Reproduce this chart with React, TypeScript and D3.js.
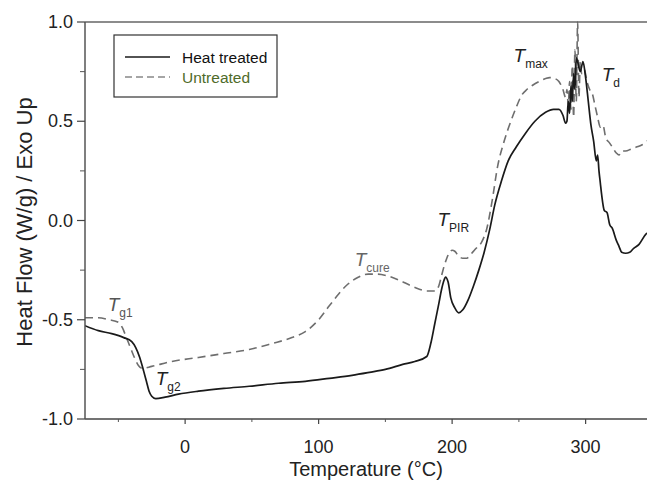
import * as d3 from "d3";

type Pt = { t: number; v: number };

// DSC curves (temperature in °C, heat flow in W/g)
const heatTreatedT = [
  -75, -65, -55, -46, -40, -37, -34, -31, -29, -27, -25, -22, -15, -5, 10, 29, 48, 70, 90, 108, 125, 138, 150, 163, 172, 181,
  184, 187, 190, 192, 194, 195, 197, 199, 202, 205, 208, 212, 216, 220, 224, 228, 232, 237, 242, 248, 255, 262, 270, 276,
  280, 283, 285, 286, 287, 288, 289, 290, 291, 292, 293, 294, 296, 298, 300, 302, 304, 306, 308, 309, 310, 311, 312, 314,
  316, 318, 320, 323, 325, 327, 330, 333, 336, 340, 345, 350,
];
const heatTreatedV = [
  -0.53, -0.555, -0.57, -0.59, -0.61, -0.64, -0.69, -0.76, -0.81, -0.86, -0.885, -0.897, -0.89, -0.875, -0.86, -0.846, -0.835,
  -0.82, -0.81, -0.795, -0.78, -0.765, -0.75, -0.725, -0.71, -0.685, -0.62, -0.52, -0.42, -0.35, -0.3, -0.285, -0.31, -0.39,
  -0.44, -0.465, -0.45, -0.4, -0.33, -0.25, -0.16, -0.05, 0.08, 0.2, 0.3, 0.37, 0.44, 0.5, 0.545, 0.56, 0.56, 0.53, 0.49,
  0.5, 0.6, 0.54, 0.68, 0.6, 0.74, 0.66, 0.82, 0.8, 0.75, 0.8, 0.72, 0.6, 0.48, 0.4, 0.3, 0.33, 0.25, 0.19, 0.13, 0.05,
  0.04, -0.02, -0.04, -0.1, -0.13, -0.16, -0.165, -0.16, -0.14, -0.12, -0.07, -0.05,
];

const untreatedT = [
  -75, -65, -57, -51, -47, -44, -41, -38, -35, -32, -25, -10, 10, 29, 48, 65, 80, 90, 100, 108, 115, 122, 130, 137, 144, 152,
  160, 168, 175, 181, 187, 190, 192, 194, 196, 198, 200, 202, 205, 208, 211, 214, 218, 222, 226, 230, 234, 239, 244, 248, 252,
  256, 260, 265, 270, 273, 277, 280, 283, 285, 286, 287, 288, 289, 290, 291, 292, 293, 294, 295, 296, 297, 299, 301, 303,
  305, 307, 309, 311, 313, 315, 318, 320, 323, 325, 327, 330, 334, 338, 342, 346, 350,
];
const untreatedV = [
  -0.49, -0.49, -0.5, -0.51, -0.54, -0.59, -0.64, -0.69, -0.73, -0.745, -0.735, -0.71, -0.69, -0.67, -0.65, -0.62, -0.59, -0.56,
  -0.5, -0.43, -0.37, -0.32, -0.285, -0.27, -0.27, -0.28, -0.3, -0.325, -0.345, -0.355, -0.355, -0.33, -0.28, -0.23, -0.19,
  -0.16, -0.15, -0.155, -0.18, -0.19, -0.19, -0.17, -0.14, -0.11, -0.04, 0.1, 0.27, 0.4, 0.5, 0.57, 0.63, 0.66, 0.68, 0.7,
  0.715, 0.72, 0.715, 0.7, 0.66, 0.62, 0.66, 0.58, 0.7, 0.56, 0.78, 0.52, 0.86, 0.6, 1.0, 0.62, 0.8, 0.74, 0.76, 0.7, 0.66,
  0.64, 0.58, 0.52, 0.47, 0.48, 0.42, 0.39, 0.37, 0.34, 0.33, 0.35, 0.35, 0.36, 0.37, 0.38, 0.4, 0.42,
];

const xTicks = [0, 100, 200, 300];
const xMinorTicks = [-50, 50, 150, 250];
const yTicks = [-1.0, -0.5, 0.0, 0.5, 1.0];
const yMinorTicks = [-0.75, -0.25, 0.25, 0.75];

const labels = [
  { t: -58, v: -0.455, main: "T", sub: "g1", color: "#555" },
  { t: -22, v: -0.83, main: "T", sub: "g2", color: "#222" },
  { t: 127, v: -0.23, main: "T", sub: "cure", color: "#666" },
  { t: 189, v: -0.03, main: "T", sub: "PIR", color: "#222" },
  { t: 246, v: 0.8, main: "T", sub: "max", color: "#222" },
  { t: 312, v: 0.705, main: "T", sub: "d", color: "#222" },
];

const W = 647;
const H = 481;
const font = "Arial, 'Liberation Sans', sans-serif";

const App = () => {
  const left = 85;
  const top = 22;
  const bottom = 419;
  const xScale = d3.scaleLinear().domain([-75, 350]).range([left, left + 425 * 1.335]);
  const yScale = d3.scaleLinear().domain([-1, 1]).range([bottom, top]);

  const toPts = (ts: number[], vs: number[]): Pt[] => ts.map((t, i) => ({ t, v: vs[i] }));
  const line = d3
    .line<Pt>()
    .x((d) => xScale(d.t))
    .y((d) => yScale(d.v))
    .curve(d3.curveMonotoneX);

  const solidPath = line(toPts(heatTreatedT, heatTreatedV));
  const dashedPath = line(toPts(untreatedT, untreatedV));

  return (
    <svg width={W} height={H} style={{ position: "absolute", left: 0, top: 0, background: "#fff" }}>
      <defs>
        <clipPath id="plot">
          <rect x={left} y={top - 1} width={W - left} height={bottom - top + 1} />
        </clipPath>
      </defs>
      <g clipPath="url(#plot)">
        <path d={dashedPath ?? undefined} fill="none" stroke="#6e6e6e" strokeWidth={1.6} strokeDasharray="8,5" />
        <path d={solidPath ?? undefined} fill="none" stroke="#1a1a1a" strokeWidth={1.7} />
      </g>

      {/* frame */}
      <line x1={left} x2={W} y1={top} y2={top} stroke="#666" strokeWidth={1.5} />
      <line x1={left} x2={W} y1={bottom} y2={bottom} stroke="#444" strokeWidth={1.5} />
      <line x1={left} x2={left} y1={top} y2={bottom} stroke="#555" strokeWidth={1.5} />

      {/* y ticks */}
      {yTicks.map((v) => (
        <g key={"y" + v}>
          <line x1={left - 8} x2={left} y1={yScale(v)} y2={yScale(v)} stroke="#444" strokeWidth={1.2} />
          <text x={left - 12} y={yScale(v) + 6} textAnchor="end" fontSize={18} fontFamily={font} fill="#222">
            {d3.format(".1f")(v).replace("−", "-")}
          </text>
        </g>
      ))}
      {yMinorTicks.map((v) => (
        <line key={"ym" + v} x1={left - 5} x2={left} y1={yScale(v)} y2={yScale(v)} stroke="#555" strokeWidth={1} />
      ))}

      {/* x ticks */}
      {xTicks.map((t) => (
        <g key={"x" + t}>
          <line x1={xScale(t)} x2={xScale(t)} y1={bottom} y2={bottom + 5} stroke="#444" strokeWidth={1.2} />
          <text x={xScale(t)} y={453} textAnchor="middle" fontSize={18} fontFamily={font} fill="#222">
            {t}
          </text>
        </g>
      ))}
      {xMinorTicks.map((t) => (
        <line key={"xm" + t} x1={xScale(t)} x2={xScale(t)} y1={bottom} y2={bottom + 3} stroke="#555" strokeWidth={1} />
      ))}

      {/* axis titles */}
      <text x={366} y={476} textAnchor="middle" fontSize={20} fontFamily={font} fill="#222">
        Temperature (°C)
      </text>
      <text
        transform={`translate(32,222) rotate(-90)`}
        textAnchor="middle"
        fontSize={22}
        fontFamily={font}
        fill="#222"
      >
        Heat Flow (W/g) / Exo Up
      </text>

      {/* annotations */}
      {labels.map((l) => (
        <text key={l.sub} x={xScale(l.t)} y={yScale(l.v)} fontFamily={font} fill={l.color}>
          <tspan fontStyle="italic" fontSize={19}>
            {l.main}
          </tspan>
          <tspan dy={6} fontSize={12}>
            {l.sub}
          </tspan>
        </text>
      ))}

      {/* legend */}
      <rect x={114} y={35} width={163} height={62} fill="#fff" stroke="#333" strokeWidth={1.2} />
      <line x1={125} x2={170} y1={57} y2={57} stroke="#1a1a1a" strokeWidth={1.5} />
      <line x1={125} x2={170} y1={77} y2={77} stroke="#888" strokeWidth={1.5} strokeDasharray="7,4" />
      <text x={182} y={63} fontSize={15.5} fontFamily={font} fill="#111">
        Heat treated
      </text>
      <text x={182} y={83} fontSize={15.5} fontFamily={font} fill="#4f6b2a">
        Untreated
      </text>
    </svg>
  );
};

export default App;
